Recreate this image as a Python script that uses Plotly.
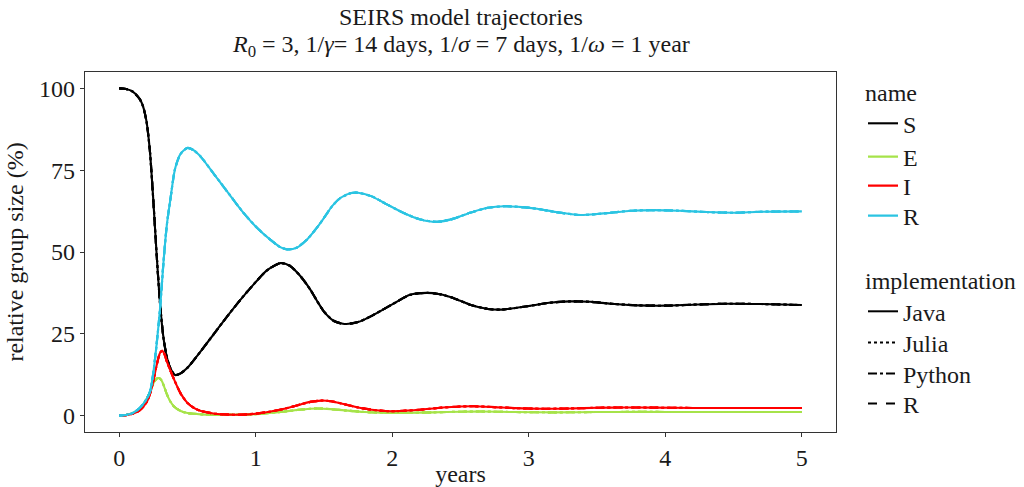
import plotly.graph_objects as go

# ---- data (time in years, value in %) ----
t_S = [0, 0.05, 0.1, 0.15, 0.175, 0.2, 0.225, 0.25, 0.275, 0.3, 0.325, 0.35, 0.375, 0.41, 0.45, 0.5,
       0.6, 0.7, 0.8, 0.9, 1.0, 1.08, 1.18, 1.25, 1.33, 1.4, 1.45, 1.5, 1.57, 1.65, 1.75,
       1.85, 2.0, 2.13, 2.25, 2.35, 2.45, 2.57, 2.7, 2.8, 3.0, 3.15, 3.3, 3.45, 3.6, 3.8,
       4.0, 4.2, 4.45, 4.7, 5.0]
S_vals = [100, 99.8, 99, 96.8, 94.5, 90, 81, 66, 49, 34, 23.7, 17.8, 14.5, 12.4, 12.9, 14.6,
          19.8, 25.3, 30.8, 36, 40.8, 44.3, 46.6, 45.8, 42.5, 38.5, 35, 31.8, 29, 28, 28.6,
          30.5, 34, 36.9, 37.5, 37.1, 35.9, 33.9, 32.6, 32.4, 33.5, 34.5, 34.9, 34.8, 34.2, 33.7,
          33.6, 33.9, 34.2, 34.1, 33.8]

t_E = [0, 0.05, 0.1, 0.15, 0.2, 0.227, 0.25, 0.275, 0.29, 0.31, 0.33, 0.35, 0.375, 0.4, 0.45,
       0.5, 0.6, 0.8, 1.0, 1.1, 1.2, 1.3, 1.4, 1.45, 1.55, 1.65, 1.8, 1.95, 2.1, 2.3, 2.5,
       2.65, 2.9, 3.2, 3.5, 3.8, 4.2, 5.0]
E_vals = [0, 0.2, 0.8, 2, 5, 7.3, 9.8, 11.3, 11.5, 10.8, 8.8, 6.5, 4.3, 2.9, 1.4,
          0.8, 0.4, 0.25, 0.45, 0.8, 1.2, 1.7, 2.1, 2.2, 2.0, 1.6, 1.1, 0.85, 0.85, 1.0, 1.2,
          1.25, 1.1, 1.0, 1.1, 1.15, 1.1, 1.1]

t_I = [0, 0.05, 0.1, 0.15, 0.2, 0.227, 0.25, 0.275, 0.3, 0.315, 0.33, 0.35, 0.375, 0.4, 0.45,
       0.5, 0.55, 0.6, 0.7, 0.8, 0.9, 1.0, 1.1, 1.2, 1.3, 1.4, 1.48, 1.55, 1.65, 1.75, 1.85,
       1.95, 2.05, 2.2, 2.35, 2.5, 2.6, 2.75, 2.9, 3.1, 3.3, 3.5, 3.7, 3.9, 4.2, 4.5, 5.0]
I_vals = [0, 0.15, 0.6, 1.6, 4, 6.8, 10.5, 15.5, 19.2, 19.8, 19, 16.5, 13.8, 11.3, 6.8,
          3.9, 2.3, 1.4, 0.6, 0.3, 0.3, 0.6, 1.2, 2.0, 3.1, 4.2, 4.6, 4.4, 3.5, 2.5, 1.8,
          1.4, 1.4, 1.8, 2.4, 2.8, 2.85, 2.6, 2.3, 2.1, 2.2, 2.4, 2.5, 2.45, 2.35, 2.35, 2.35]

t_R = [0, 0.05, 0.1, 0.15, 0.2, 0.227, 0.25, 0.275, 0.3, 0.325, 0.35, 0.375, 0.41, 0.45, 0.5,
       0.55, 0.6, 0.7, 0.8, 0.9, 1.0, 1.1, 1.18, 1.23, 1.3, 1.38, 1.45, 1.5, 1.56,
       1.62, 1.7, 1.75, 1.85, 1.95, 2.08, 2.2, 2.33, 2.45, 2.57, 2.7, 2.82, 2.95, 3.06, 3.2,
       3.38, 3.5, 3.6, 3.75, 3.92, 4.1, 4.3, 4.5, 4.7, 5.0]
R_vals = [0, 0.2, 0.8, 2.3, 5, 7.5, 13, 22, 32.9, 47, 58.5, 66, 75.5, 80, 81.8,
          81.0, 79, 73.5, 68, 62.5, 57.8, 54, 51.5, 50.8, 51.3, 54, 57.5, 60.4, 64,
          66.5, 68, 68.1, 67, 64.8, 62, 60, 59.2, 60.2, 62, 63.5, 64, 63.7, 63.2, 62.2,
          61.3, 61.6, 62, 62.6, 62.8, 62.6, 62.2, 62, 62.3, 62.4]

names = ["S", "E", "I", "R"]
implementations = ["Java", "Julia", "Python", "R"]
x_ticks = [0, 1, 2, 3, 4, 5]
y_ticks = [0, 25, 50, 75, 100]

series = {"S": (t_S, S_vals), "E": (t_E, E_vals), "I": (t_I, I_vals), "R": (t_R, R_vals)}
colors = {"S": "#000000", "E": "#a6e34a", "I": "#ff0000", "R": "#2bc4e2"}
dashes = {"Java": "solid", "Julia": "dot", "Python": "dashdot", "R": "dash"}

FONT = "Liberation Serif"
FS = 24
TXT = "#1a1a1a"

W, H = 1024, 487

name_legends = {"S": "legend", "E": "legend2", "I": "legend3", "R": "legend4"}
impl_legends = {"Java": "legend5", "Julia": "legend6", "Python": "legend7", "R": "legend8"}

fig = go.Figure()

for nm in names:
    t, v = series[nm]
    for impl in implementations:
        fig.add_trace(go.Scatter(
            x=t, y=v, mode="lines",
            line=dict(color=colors[nm], width=2.1, dash=dashes[impl], shape="spline", smoothing=0.7),
            name=nm, legend=name_legends[nm],
            showlegend=(impl == "Java"),
            hoverinfo="skip",
        ))

for impl in implementations:
    fig.add_trace(go.Scatter(
        x=[None], y=[None], mode="lines",
        line=dict(color="#000000", width=2, dash=dashes[impl]),
        name=impl, legend=impl_legends[impl], showlegend=True,
    ))

LX = 863 / W


def leg(y_px, anchor, title=None):
    d = dict(xref="container", yref="container", x=LX, y=1 - y_px / H,
             xanchor="left", yanchor=anchor, font=dict(family=FONT, size=FS, color=TXT),
             bgcolor="rgba(0,0,0,0)", borderwidth=0)
    if title:
        d["title"] = dict(text=title, font=dict(family=FONT, size=FS, color=TXT))
    return d


# plot area in pixels: x 85..836, y 72..432
PL, PR, PT, PB = 85, 836, 72, 432

fig.update_layout(
    width=W, height=H,
    margin=dict(l=PL, r=W - PR, t=PT, b=H - PB, autoexpand=False),
    paper_bgcolor="white", plot_bgcolor="white",
    font=dict(family=FONT, size=FS, color=TXT),
    showlegend=True,
    legend=leg(70, "top", "name"),
    legend2=leg(157, "middle"),
    legend3=leg(186, "middle"),
    legend4=leg(216, "middle"),
    legend5=leg(258, "top", "implementation"),
    legend6=leg(343, "middle"),
    legend7=leg(374, "middle"),
    legend8=leg(404, "middle"),
)

fig.update_xaxes(
    range=[-0.25, 5.25], tickvals=x_ticks, ticktext=[str(v) for v in x_ticks],
    showgrid=False, zeroline=False, showline=True, mirror=True, automargin=False,
    linecolor="#333333", linewidth=1.2, ticks="outside", ticklen=4, tickcolor="#333333",
    tickfont=dict(family=FONT, size=FS, color=TXT),
    title=dict(text="years", font=dict(family=FONT, size=FS, color=TXT), standoff=0),
)
fig.update_yaxes(
    range=[-5, 105], tickvals=y_ticks, ticktext=[str(v) for v in y_ticks],
    showgrid=False, zeroline=False, showline=True, mirror=True, automargin=False,
    linecolor="#333333", linewidth=1.2, ticks="outside", ticklen=4, tickcolor="#333333",
    tickfont=dict(family=FONT, size=FS, color=TXT),
    title=dict(text="relative group size (%)", font=dict(family=FONT, size=FS, color=TXT), standoff=8),
)

ph = PB - PT
fig.add_annotation(
    text="SEIRS model trajectories", xref="paper", yref="paper",
    x=0.5, y=(PB - 17) / ph, xanchor="center", yanchor="middle", showarrow=False,
    font=dict(family=FONT, size=FS, color=TXT), borderpad=0,
)
fig.add_annotation(
    text="<i>R</i><sub>0</sub> = 3, 1/<i>γ</i>= 14 days, 1/<i>σ</i> = 7 days, 1/<i>ω</i> = 1 year",
    xref="paper", yref="paper",
    x=0.5, y=(PB - 46) / ph, xanchor="center", yanchor="middle", showarrow=False,
    font=dict(family=FONT, size=FS, color=TXT), borderpad=0,
)

fig.write_html("out.html", config={"displayModeBar": False},
               post_script="document.body.style.margin='0px';")
